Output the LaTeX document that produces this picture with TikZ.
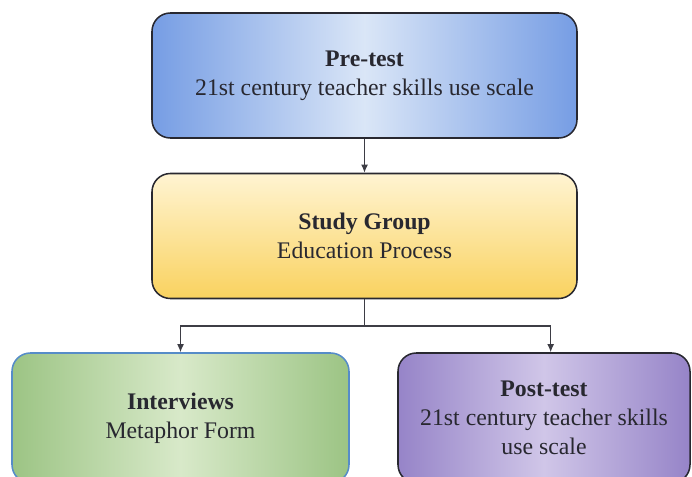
\documentclass[tikz,border=0pt]{standalone}
\usepackage{fontspec}
\setmainfont{Liberation Serif}
\usetikzlibrary{arrows,arrows.meta,shapes,positioning}

\definecolor{preblue}{RGB}{118,157,228}
\definecolor{prelight}{RGB}{218,230,247}
\definecolor{grouptop}{RGB}{255,244,210}
\definecolor{groupbot}{RGB}{249,210,95}
\definecolor{intgreen}{RGB}{156,196,132}
\definecolor{intlight}{RGB}{216,233,201}
\definecolor{intborder}{RGB}{86,140,200}
\definecolor{postpurple}{RGB}{150,132,200}
\definecolor{postlight}{RGB}{208,198,232}
\definecolor{inkdark}{RGB}{40,40,48}

\begin{document}
\begin{tikzpicture}[
  stage/.style = {draw=inkdark, line width=1.3pt, rounded corners=0.55cm,
    align=center, text=inkdark, inner sep=0pt,
    font=\fontsize{20.3}{25}\selectfont},
  link/.style = {draw=inkdark!90, line width=1.1pt},
  tip/.style = {-{Latex[length=7pt,width=6pt]}}
]
\useasboundingbox (0,0) rectangle (20.76,14.28);
\clip (0,0) rectangle (20.76,14.28);

\node[stage, minimum width=12.75cm, minimum height=3.75cm,
  left color=preblue, right color=preblue, middle color=prelight]
  (pre) at (10.935,12.015) {\textbf{Pre-test}\\21st century teacher skills use scale};

\node[stage, minimum width=12.75cm, minimum height=3.75cm,
  top color=grouptop, bottom color=groupbot]
  (group) at (10.935,7.2) {\textbf{Study Group}\\Education Process};

\node[stage, draw=intborder, minimum width=10.11cm, minimum height=3.9cm,
  left color=intgreen, right color=intgreen, middle color=intlight]
  (inter) at (5.415,1.74) {\textbf{Interviews}\\Metaphor Form};

\node[stage, minimum width=8.76cm, minimum height=3.9cm,
  left color=postpurple, right color=postpurple, middle color=postlight]
  (post) at (16.32,1.74) {\textbf{Post-test}\\21st century teacher skills\\use scale};

\coordinate (split) at (10.935,4.5);

\draw[link, tip] (pre) -- (group);
\draw[link] (group) -- (split);
\draw[link, tip] (split) -| (inter.north);
\draw[link, tip] (split) -| ([xshift=0.2cm]post.north);

\end{tikzpicture}
\end{document}
